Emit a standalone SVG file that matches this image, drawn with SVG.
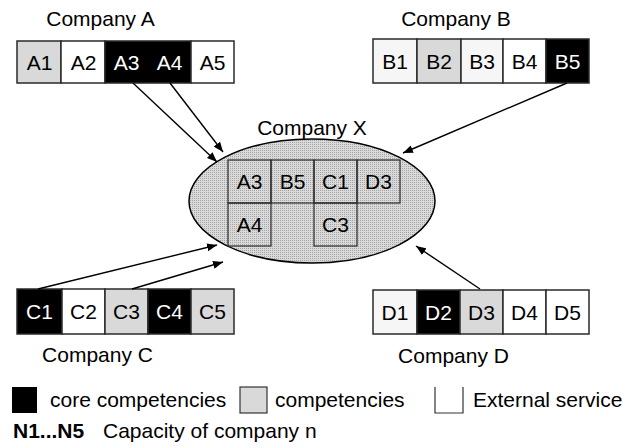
<svg xmlns="http://www.w3.org/2000/svg" width="638" height="448" viewBox="0 0 638 448">
<style>
text{font-family:"Liberation Sans",Arial,sans-serif;font-size:21px;fill:#000}
.c{text-anchor:middle}
.w{fill:#fff}
.cell{stroke:#2a2a2a;stroke-width:1.5}
.k{fill:#000}
.g{fill:#d9d9d9}
.wh{fill:#fff}
.lw{fill:#f6f6f6}
.xc{fill:none;stroke:#2a2a2a;stroke-width:1.2}
.arr{stroke:#000;stroke-width:1.4;fill:none;marker-end:url(#ah)}
</style>
<defs>
<marker id="ah" viewBox="0 0 10 8" refX="10" refY="4" markerWidth="10" markerHeight="8" markerUnits="userSpaceOnUse" orient="auto">
<path d="M0,0 L10,4 L0,8 Z" fill="#000"/>
</marker>
<pattern id="dots" width="2" height="2" patternUnits="userSpaceOnUse">
<rect width="2" height="2" fill="#dadada"/>
<rect width="1" height="1" fill="#a4a4a4"/>
</pattern>
</defs>
<rect width="638" height="448" fill="#fff"/>

<g id="companyX">
<ellipse cx="312" cy="201" rx="123" ry="62" fill="url(#dots)" stroke="#000" stroke-width="1.5"/>
<rect class="xc" x="228" y="160" width="43" height="43"/>
<rect class="xc" x="271" y="160" width="43" height="43"/>
<rect class="xc" x="314" y="160" width="43" height="43"/>
<rect class="xc" x="357" y="160" width="43" height="43"/>
<rect class="xc" x="228" y="203" width="43" height="43"/>
<rect class="xc" x="314" y="203" width="43" height="43"/>
<text class="c" x="249.5" y="189">A3</text>
<text class="c" x="292.5" y="189">B5</text>
<text class="c" x="335.5" y="189">C1</text>
<text class="c" x="378.5" y="189">D3</text>
<text class="c" x="249.5" y="232">A4</text>
<text class="c" x="335.5" y="232">C3</text>
<text class="c" x="312" y="135">Company X</text>
</g>

<g id="companyA">
<text class="c" x="100.5" y="26">Company A</text>
<rect class="cell g" x="17" y="41" width="44" height="42"/>
<rect class="cell wh" x="61" y="41" width="44" height="42"/>
<rect class="cell k" x="105" y="41" width="86" height="42"/>
<rect class="cell wh" x="191" y="41" width="43" height="42"/>
<text class="c" x="39.5" y="70">A1</text>
<text class="c" x="83.5" y="70">A2</text>
<text class="c w" x="126.5" y="70">A3</text>
<text class="c w" x="169.5" y="70">A4</text>
<text class="c" x="212.5" y="70">A5</text>
</g>

<g id="companyB">
<text class="c" x="456" y="26">Company B</text>
<rect class="cell lw" x="373" y="39" width="44" height="44"/>
<rect class="cell g" x="417" y="39" width="44" height="44"/>
<rect class="cell lw" x="461" y="39" width="42" height="44"/>
<rect class="cell wh" x="503" y="39" width="43" height="44"/>
<rect class="cell k" x="546" y="39" width="43" height="44"/>
<text class="c" x="395" y="69">B1</text>
<text class="c" x="439" y="69">B2</text>
<text class="c" x="482" y="69">B3</text>
<text class="c" x="524.5" y="69">B4</text>
<text class="c w" x="567.5" y="69">B5</text>
</g>

<g id="companyC">
<rect class="cell k" x="17" y="289" width="45" height="45"/>
<rect class="cell wh" x="62" y="289" width="43" height="45"/>
<rect class="cell g" x="105" y="289" width="43" height="45"/>
<rect class="cell k" x="148" y="289" width="43" height="45"/>
<rect class="cell g" x="191" y="289" width="43" height="45"/>
<text class="c w" x="39.5" y="319">C1</text>
<text class="c" x="83.5" y="319">C2</text>
<text class="c" x="126.5" y="319">C3</text>
<text class="c w" x="169.5" y="319">C4</text>
<text class="c" x="212.5" y="319">C5</text>
<text class="c" x="97.5" y="362">Company C</text>
</g>

<g id="companyD">
<rect class="cell lw" x="373" y="290" width="44" height="44"/>
<rect class="cell k" x="417" y="290" width="43" height="44"/>
<rect class="cell g" x="460" y="290" width="43" height="44"/>
<rect class="cell wh" x="503" y="290" width="43" height="44"/>
<rect class="cell wh" x="546" y="290" width="43" height="44"/>
<text class="c" x="395" y="320">D1</text>
<text class="c w" x="438.5" y="320">D2</text>
<text class="c" x="481.5" y="320">D3</text>
<text class="c" x="524.5" y="320">D4</text>
<text class="c" x="567.5" y="320">D5</text>
<text class="c" x="453.5" y="363">Company D</text>
</g>

<g id="connectors">
<line class="arr" x1="133" y1="83" x2="217" y2="162"/>
<line class="arr" x1="170" y1="83" x2="223" y2="152"/>
<line class="arr" x1="567" y1="83" x2="403" y2="153"/>
<line class="arr" x1="38" y1="289" x2="217" y2="245"/>
<line class="arr" x1="132" y1="289" x2="223" y2="262"/>
<line class="arr" x1="480" y1="289" x2="416" y2="246"/>
</g>

<g id="legend">
<rect x="12" y="387" width="25" height="26" fill="#000"/>
<text x="50" y="407">core competencies</text>
<rect x="240" y="387" width="27" height="26" fill="#d9d9d9" stroke="#333" stroke-width="1.2"/>
<text x="275" y="407">competencies</text>
<path d="M435,387 V413 H463 V387" fill="none" stroke="#333" stroke-width="1.2"/>
<text x="473" y="407">External service</text>
<text x="13" y="438" font-weight="bold">N1...N5</text>
<text x="103" y="438">Capacity of company n</text>
</g>
</svg>
